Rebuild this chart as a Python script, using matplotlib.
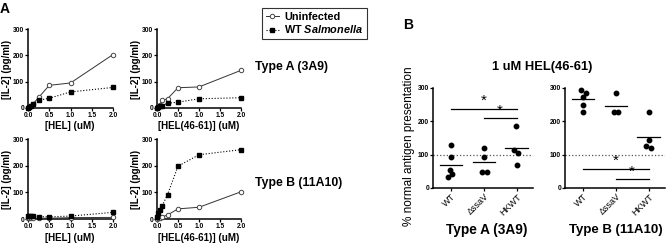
import matplotlib
matplotlib.use('Agg')
import matplotlib.pyplot as plt
import numpy as np
from matplotlib.lines import Line2D

plt.rcParams['font.family'] = ['Liberation Sans', 'DejaVu Sans']
plt.rcParams['mathtext.fontset'] = 'custom'
plt.rcParams['mathtext.rm'] = 'Liberation Sans:bold'
plt.rcParams['mathtext.bfit'] = 'Liberation Sans:italic:bold'

# dose (uM)
dose = [0, 0.03125, 0.0625, 0.125, 0.25, 0.5, 1.0, 2.0]

# panel A: IL-2 (pg/ml)
a_hel_uninf = [0, 4, 9, 17, 40, 86, 95, 203]
a_hel_salm = [0, 4, 9, 16, 29, 37, 61, 78]
a_pep_uninf = [0, 6, 13, 29, 35, 77, 80, 143]
a_pep_salm = [1, 4, 6, 9, 18, 22, 35, 39]
b_hel_uninf = [2, 2, 2, 2, 3, 3, 5, 6]
b_hel_salm = [10, 10, 10, 10, 9, 8, 11, 25]
b_pep_uninf = [0, 2, 4, 8, 15, 38, 44, 102]
b_pep_salm = [9, 21, 34, 50, 91, 198, 241, 260]

# panel B: % normal antigen presentation
groups = ['WT', '\u0394ssaV', 'HKWT']
typeA_pts = [[128, 93, 55, 42, 34], [121, 93, 47, 47], [187, 113, 105, 70]]
typeB_pts = [[293, 285, 273, 250, 229], [285, 228, 228], [227, 143, 125, 120]]
typeA_jit = [[0, 0, -0.03, 0.04, -0.08], [0, 0, -0.07, 0.1], [-0.02, -0.08, 0.04, 0]]
typeB_jit = [[-0.07, 0.08, 0, 0, 0], [0, -0.07, 0.08], [0, 0, -0.07, 0.06]]

W, H = 666, 244
fig = plt.figure(figsize=(W / 100, H / 100), dpi=100)


def rect(x0, x1, y0, y1):
    return [x0 / W, 1 - y1 / H, (x1 - x0) / W, (y1 - y0) / H]


def ftext(x, y, s, **kw):
    fig.text(x / W, 1 - y / H, s, **kw)


def style_ax(ax):
    for s in ['top', 'right']:
        ax.spines[s].set_visible(False)
    for s in ['left', 'bottom']:
        ax.spines[s].set_linewidth(1.1)
    ax.tick_params(length=2, width=0.9, pad=0.8, labelsize=4.8)
    for lab in ax.get_xticklabels() + ax.get_yticklabels():
        lab.set_fontweight('bold')


def dose_panel(rc, uninf, salm):
    ax = fig.add_axes(rc)
    ax.plot(dose, uninf, '-', color='#333333', lw=0.7, marker='o', ms=3.2,
            mfc='white', mec='#444444', mew=0.7, clip_on=False, zorder=3)
    ax.plot(dose, salm, ':', color='black', lw=0.8, marker='s', ms=3.4,
            mfc='black', mec='black', clip_on=False, zorder=4)
    ax.set_xlim(0, 2.0)
    ax.set_ylim(0, 300)
    ax.set_xticks([0, 0.5, 1.0, 1.5, 2.0])
    ax.set_xticklabels(['0.0', '0.5', '1.0', '1.5', '2.0'])
    ax.set_yticks([0, 100, 200, 300])
    style_ax(ax)
    return ax


dose_panel(rect(28, 113, 29, 108), a_hel_uninf, a_hel_salm)
dose_panel(rect(157, 241, 29, 108), a_pep_uninf, a_pep_salm)
dose_panel(rect(28, 113, 139, 219), b_hel_uninf, b_hel_salm)
dose_panel(rect(157, 241, 139, 219), b_pep_uninf, b_pep_salm)

for x in [7, 136]:
    for y in [69, 179]:
        ftext(x, y, '[IL-2] (pg/ml)', rotation=90, ha='center', va='center',
              fontsize=7, fontweight='bold')
for y in [126, 238]:
    ftext(70, y, '[HEL] (uM)', ha='center', va='center', fontsize=7, fontweight='bold')
    ftext(199, y, '[HEL(46-61)] (uM)', ha='center', va='center', fontsize=7, fontweight='bold')

ftext(255, 67, 'Type A (3A9)', ha='left', va='center', fontsize=8.8, fontweight='bold')
ftext(255, 183, 'Type B (11A10)', ha='left', va='center', fontsize=8.8, fontweight='bold')
ftext(5, 9, 'A', ha='center', va='center', fontsize=10, fontweight='bold')
ftext(408, 25, 'B', ha='center', va='center', fontsize=10, fontweight='bold')

handles = [
    Line2D([], [], ls='-', color='#333333', lw=0.7, marker='o', ms=3.2,
           mfc='white', mec='#444444', mew=0.7),
    Line2D([], [], ls=':', color='black', lw=0.8, marker='s', ms=3.4, mfc='black'),
]
leg = fig.legend(handles, ['Uninfected', r'WT $\mathbfit{Salmonella}$'],
                 loc='upper left', bbox_to_anchor=(262 / W, 1 - 8 / H),
                 prop={'weight': 'bold', 'size': 7.8}, frameon=True, fancybox=False,
                 edgecolor='black', handlelength=1.2, handletextpad=0.5,
                 borderpad=0.35, labelspacing=0.15, borderaxespad=0)
leg.get_frame().set_linewidth(0.8)


def dot_panel(rc, pts, jit, sigs):
    ax = fig.add_axes(rc)
    for i, vals in enumerate(pts):
        xs = [i + j for j in jit[i]]
        ax.plot(xs, vals, 'o', color='black', ms=3.2, clip_on=False, zorder=3)
        m = np.mean(vals)
        ax.plot([i - 0.34, i + 0.34], [m, m], '-', color='black', lw=0.9)
    ax.axhline(100, color='#555555', ls=':', lw=0.9, zorder=1)
    for x0, x1, y in sigs:
        ax.plot([x0, x1], [y, y], '-', color='black', lw=0.9)
        ax.text((x0 + x1) / 2, y + 2, '*', ha='center', va='bottom', fontsize=11)
    ax.set_xlim(-0.55, 2.5)
    ax.set_ylim(0, 300)
    ax.set_xticks(range(len(groups)))
    ax.set_xticklabels(groups, rotation=45, ha='right', rotation_mode='anchor')
    ax.set_yticks([0, 100, 200, 300])
    style_ax(ax)
    for lab in ax.get_xticklabels():
        lab.set_fontweight('normal')
        lab.set_fontsize(6.5)
    return ax


dot_panel(rect(433, 533, 88, 188), typeA_pts, typeA_jit, [(0, 2, 238), (1, 2, 209)])
dot_panel(rect(565, 665, 88, 188), typeB_pts, typeB_jit, [(0, 2, 58), (1, 2, 27)])

ftext(409, 146, '% normal antigen presentation', rotation=90, ha='center',
      va='center', fontsize=8.5)
ftext(542, 67, '1 uM HEL(46-61)', ha='center', va='center', fontsize=9.3, fontweight='bold')
ftext(487, 230, 'Type A (3A9)', ha='center', va='center', fontsize=9.8, fontweight='bold')
ftext(616, 230, 'Type B (11A10)', ha='center', va='center', fontsize=9.5, fontweight='bold')

fig.savefig('out.png', dpi=100)
